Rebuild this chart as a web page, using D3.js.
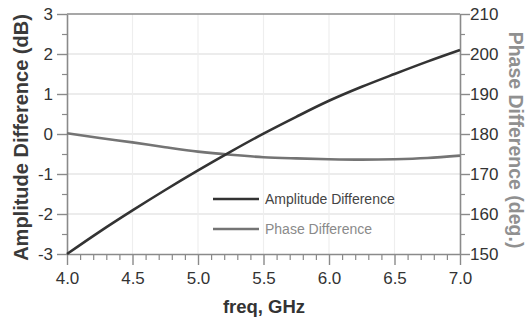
<!DOCTYPE html>
<html><head><meta charset="utf-8">
<script src="https://cdn.jsdelivr.net/npm/d3@7"></script>
<style>body{margin:0;background:#fff}svg{display:block}</style>
</head><body>
<svg id="c" width="528" height="324"></svg>
<script>
const freq = [4.0,4.25,4.5,4.75,5.0,5.25,5.5,5.75,6.0,6.25,6.5,6.75,7.0];
const amplitude = [-3.0,-2.44,-1.91,-1.40,-0.91,-0.44,0.01,0.43,0.83,1.18,1.50,1.81,2.10];
const phase = [180.2,179.0,177.9,176.7,175.6,174.8,174.2,173.9,173.7,173.6,173.7,174.0,174.6];
const xTicks = [4.0,4.5,5.0,5.5,6.0,6.5,7.0];
const leftTicks = [-3,-2,-1,0,1,2,3];
const rightTicks = [150,160,170,180,190,200,210];
const seriesNames = ["Amplitude Difference","Phase Difference"];

const svg = d3.select("#c");
const L=67,R=460,T=14,B=254;
const x = d3.scaleLinear().domain([4,7]).range([L,R]);
const yL = d3.scaleLinear().domain([-3,3]).range([B,T]);
const yR = d3.scaleLinear().domain([150,210]).range([B,T]);
const axisCol="#8a8a8a", font="'Liberation Sans',Arial,sans-serif";

// grid
const g = svg.append("g");
g.selectAll(".hg").data(leftTicks.slice(1,-1)).enter().append("line")
  .attr("x1",L).attr("x2",R).attr("y1",d=>yL(d)).attr("y2",d=>yL(d))
  .attr("stroke","#e6e6e6").attr("stroke-width",1.5);
g.selectAll(".vg").data(xTicks.slice(1,-1)).enter().append("line")
  .attr("y1",T).attr("y2",B).attr("x1",d=>x(d)).attr("x2",d=>x(d))
  .attr("stroke","#eeeeee").attr("stroke-width",1.2);

function styleAxis(sel){
  sel.select(".domain").attr("stroke",axisCol).attr("stroke-width",1.6);
  sel.selectAll(".tick line").attr("stroke",axisCol).attr("stroke-width",1.4);
  sel.selectAll("text").attr("fill","#333").style("font-family",font).style("font-size","17px");
}
// minor ticks
const minorX = d3.range(40,71).map(v=>v/10).filter(v=>Math.abs(v*2-Math.round(v*2))>1e-6);
svg.append("g").attr("transform",`translate(0,${B})`)
  .call(d3.axisBottom(x).tickValues(minorX).tickSize(6).tickFormat(""))
  .call(s=>{s.select(".domain").remove();s.selectAll("line").attr("stroke",axisCol).attr("stroke-width",1.2);});
const minorL = d3.range(-25,30,10).map(v=>v/10);
svg.append("g").attr("transform",`translate(${L},0)`)
  .call(d3.axisLeft(yL).tickValues(minorL).tickSize(5).tickFormat(""))
  .call(s=>{s.select(".domain").remove();s.selectAll("line").attr("stroke",axisCol).attr("stroke-width",1.2);});
const minorR = d3.range(155,210,10);
svg.append("g").attr("transform",`translate(${R},0)`)
  .call(d3.axisRight(yR).tickValues(minorR).tickSize(5).tickFormat(""))
  .call(s=>{s.select(".domain").remove();s.selectAll("line").attr("stroke",axisCol).attr("stroke-width",1.2);});

// top border
svg.append("line").attr("x1",L).attr("x2",R).attr("y1",T).attr("y2",T).attr("stroke",axisCol).attr("stroke-width",1.6);

svg.append("g").attr("transform",`translate(0,${B})`)
  .call(d3.axisBottom(x).tickValues(xTicks).tickSize(11).tickSizeOuter(0).tickPadding(7).tickFormat(d3.format(".1f")))
  .call(styleAxis);
svg.append("g").attr("transform",`translate(${L},0)`)
  .call(d3.axisLeft(yL).tickValues(leftTicks).tickSize(10).tickSizeOuter(0).tickPadding(4).tickFormat(d=>(d<0?"-":"")+Math.abs(d)))
  .call(styleAxis);
svg.append("g").attr("transform",`translate(${R},0)`)
  .call(d3.axisRight(yR).tickValues(rightTicks).tickSize(10).tickSizeOuter(0).tickPadding(0).tickFormat(d3.format("d")))
  .call(styleAxis);

// lines
const lineA = d3.line().x((d,i)=>x(freq[i])).y(d=>yL(d)).curve(d3.curveMonotoneX);
const lineP = d3.line().x((d,i)=>x(freq[i])).y(d=>yR(d)).curve(d3.curveMonotoneX);
svg.append("path").attr("d",lineP(phase)).attr("fill","none").attr("stroke","#747474").attr("stroke-width",2.6);
svg.append("path").attr("d",lineA(amplitude)).attr("fill","none").attr("stroke","#333").attr("stroke-width",2.6);

// legend
const leg = [{n:seriesNames[0],c:"#333",tc:"#444",y:199},{n:seriesNames[1],c:"#747474",tc:"#8a8a8a",y:229}];
leg.forEach(l=>{
  svg.append("line").attr("x1",213).attr("x2",259).attr("y1",l.y).attr("y2",l.y).attr("stroke",l.c).attr("stroke-width",2.6);
  svg.append("text").attr("x",265).attr("y",l.y+5).text(l.n).attr("fill",l.tc)
    .style("font-family",font).style("font-size","14px");
});

// titles
svg.append("text").attr("transform",`translate(28,137.5) rotate(-90)`).attr("text-anchor","middle")
  .text("Amplitude Difference (dB)").attr("fill","#3a3a3a").style("font-family",font).style("font-size","20px").style("font-weight","bold");
svg.append("text").attr("transform",`translate(509,140) rotate(90)`).attr("text-anchor","middle")
  .text("Phase Difference (deg.)").attr("fill","#909090").style("font-family",font).style("font-size","19.5px").style("font-weight","bold");
svg.append("text").attr("x",264).attr("y",313).attr("text-anchor","middle")
  .text("freq, GHz").attr("fill","#333").style("font-family",font).style("font-size","18.5px").style("font-weight","bold");
</script>
</body></html>
